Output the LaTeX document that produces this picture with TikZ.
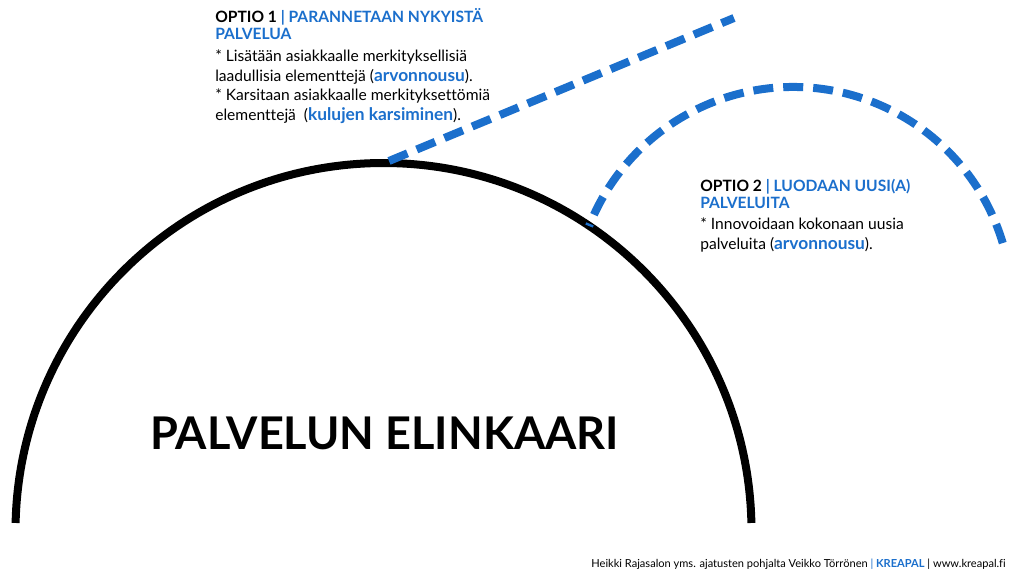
\documentclass[tikz,border=0pt]{standalone}
\usepackage{fontspec}
\setmainfont{Lato}[Ligatures=NoCommon]
\definecolor{kblue}{RGB}{27,111,204}
\begin{document}
\begin{tikzpicture}[x=0.75pt,y=0.75pt,
  blueline/.style={draw=kblue,line width=6pt,dash pattern=on 15pt off 7.5pt},
  blackline/.style={draw=black,line width=6pt},
  head/.style={anchor=base west,inner sep=0pt,font=\fontsize{11.7pt}{13pt}\bfseries},
  body/.style={anchor=base west,inner sep=0pt,font=\fontsize{11.7pt}{14pt}\selectfont}]
\newcommand{\bl}[1]{{\color{kblue}\bfseries\fontsize{13pt}{14pt}\selectfont #1}}
\useasboundingbox (0,0) rectangle (1024,575);
\fill[white] (0,0) rectangle (1024,575);
% black arc
\coordinate (bcen) at (383.5,44);
\coordinate (bstart) at ([shift={(1.25:368)}]bcen);
\draw[blackline] (bstart) arc[start angle=1.25,end angle=178.75,radius=368];
% blue straight dashed line
\coordinate (ls) at (389,414);
\coordinate (le) at (734,557);
\draw[blueline] (ls) -- (le);
% blue dashed arc (drawn from right end so that a full dash ends there)
\coordinate (acen) at (793,269);
\coordinate (aend) at ([shift={(16.7:219)}]acen);
\draw[blueline] (aend) arc[start angle=16.7,end angle=158.6,radius=219];
% title
\node[anchor=base,inner sep=0pt,font=\fontsize{33.8pt}{40pt}\bfseries] (title) at (384.5,126) {PALVELUN ELINKAARI};
% option 1
\node[head] (o1a) at (215,552.5) {OPTIO 1 {\color{kblue}| PARANNETAAN NYKYISTÄ}};
\node[head] (o1b) at (215,535.5) {\color{kblue}PALVELUA};
\node[body] (o1c) at (215,513) {* Lisätään asiakkaalle merkityksellisiä};
\node[body] (o1d) at (215,493) {laadullisia elementtejä (\bl{arvonnousu}).};
\node[body] (o1e) at (215,474) {* Karsitaan asiakkaalle merkityksettömiä};
\node[body] (o1f) at (215,454) {elementtejä\ \ (\bl{kulujen karsiminen}).};
% option 2
\node[head] (o2a) at (700,383) {OPTIO 2 {\color{kblue}| LUODAAN UUSI(A)}};
\node[head] (o2b) at (700,366) {\color{kblue}PALVELUITA};
\node[body] (o2c) at (700,345) {* Innovoidaan kokonaan uusia};
\node[body] (o2d) at (700,325) {palveluita (\bl{arvonnousu}).};
% footer
\node[anchor=base east,inner sep=0pt,font=\fontsize{8.3pt}{10pt}\selectfont] (foot) at (1006,8) {Heikki Rajasalon yms. ajatusten pohjalta Veikko Törrönen {\color{kblue}|} {\color{kblue}\bfseries KREAPAL} | www.kreapal.fi};
\end{tikzpicture}
\end{document}
